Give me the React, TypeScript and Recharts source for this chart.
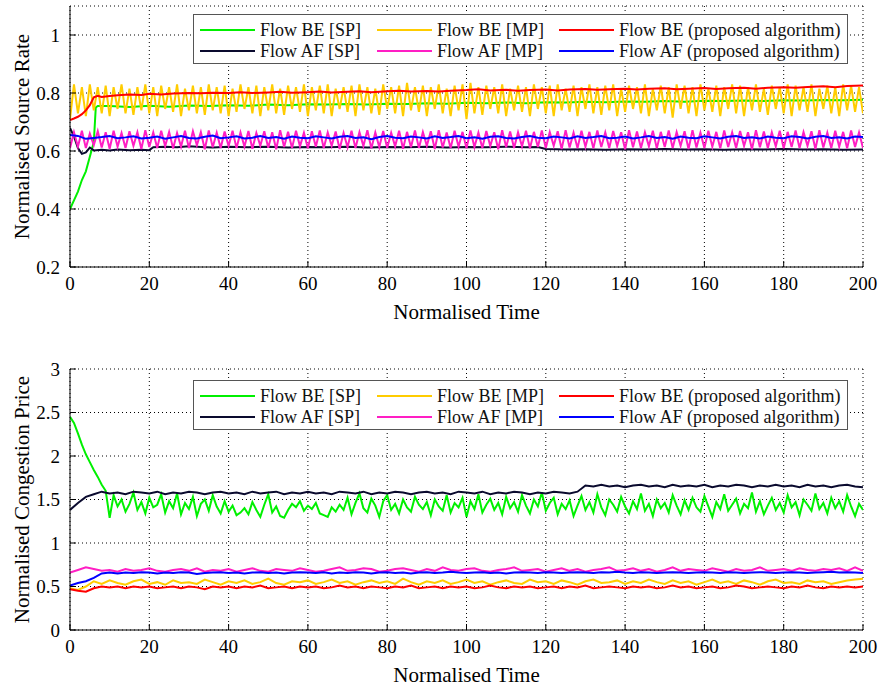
import React from "react";
import { CartesianGrid, Label, Line, LineChart, XAxis, YAxis } from "recharts";

const FONT = '"Liberation Serif", "Times New Roman", Times, serif';

const timeTicks = [0, 20, 40, 60, 80, 100, 120, 140, 160, 180, 200];
const rateTicks = [0.2, 0.4, 0.6, 0.8, 1];
const priceTicks = [0, 0.5, 1, 1.5, 2, 2.5, 3];

// ---- source rate (top panel) ----
const beSpRate: [number, number][] = [
  [0, 0.4], [1, 0.43], [2, 0.46], [3, 0.5], [4, 0.53], [5, 0.58], [6, 0.63], [6.5, 0.75], [7, 0.755],
  [10, 0.755], [15, 0.752], [20, 0.756], [25, 0.753], [30, 0.757], [35, 0.755], [40, 0.758], [45, 0.756],
  [50, 0.76], [55, 0.758], [60, 0.761], [65, 0.76], [70, 0.762], [75, 0.76], [80, 0.763], [85, 0.762],
  [90, 0.765], [95, 0.763], [100, 0.766], [105, 0.765], [110, 0.767], [115, 0.765], [120, 0.768],
  [125, 0.767], [130, 0.77], [135, 0.768], [140, 0.771], [145, 0.77], [150, 0.772], [155, 0.77],
  [160, 0.773], [165, 0.772], [170, 0.774], [175, 0.772], [180, 0.775], [185, 0.774], [190, 0.776],
  [195, 0.775], [200, 0.777],
];

const afSpRate: [number, number][] = [
  [0, 0.68], [1, 0.65], [2, 0.61], [3, 0.59], [4, 0.595], [5, 0.612], [6, 0.602], [8, 0.604], [10, 0.602],
  [12, 0.605], [15, 0.603], [18, 0.604], [20, 0.603], [21, 0.613], [24, 0.615], [27, 0.613], [30, 0.616],
  [33, 0.614], [36, 0.612], [40, 0.615], [45, 0.613], [50, 0.615], [55, 0.612], [60, 0.614], [65, 0.613],
  [70, 0.615], [75, 0.612], [80, 0.614], [85, 0.613], [90, 0.615], [95, 0.612], [100, 0.614], [105, 0.613],
  [110, 0.615], [115, 0.613], [118, 0.614], [120, 0.607], [125, 0.605], [130, 0.606], [135, 0.604],
  [140, 0.606], [145, 0.605], [150, 0.607], [155, 0.605], [160, 0.606], [165, 0.604], [170, 0.606],
  [175, 0.605], [180, 0.607], [185, 0.605], [190, 0.606], [195, 0.604], [200, 0.605],
];

// one value per time unit
const beMpRate = [
  0.71, 0.83, 0.73, 0.82, 0.72, 0.83, 0.74, 0.82, 0.73, 0.825,
  0.72, 0.82, 0.745, 0.83, 0.73, 0.815, 0.725, 0.82, 0.74, 0.83,
  0.73, 0.82, 0.72, 0.825, 0.745, 0.82, 0.735, 0.83, 0.72, 0.815,
  0.74, 0.825, 0.73, 0.82, 0.725, 0.83, 0.74, 0.82, 0.73, 0.825,
  0.72, 0.815, 0.735, 0.83, 0.745, 0.82, 0.73, 0.825, 0.72, 0.82,
  0.74, 0.83, 0.73, 0.815, 0.725, 0.825, 0.745, 0.82, 0.735, 0.83,
  0.72, 0.82, 0.74, 0.825, 0.73, 0.83, 0.72, 0.815, 0.745, 0.82,
  0.735, 0.825, 0.72, 0.83, 0.74, 0.82, 0.73, 0.815, 0.725, 0.83,
  0.745, 0.82, 0.73, 0.825, 0.72, 0.835, 0.74, 0.82, 0.735, 0.825,
  0.72, 0.82, 0.745, 0.83, 0.73, 0.815, 0.72, 0.825, 0.74, 0.83,
  0.71, 0.835, 0.73, 0.82, 0.725, 0.825, 0.745, 0.82, 0.73, 0.83,
  0.72, 0.815, 0.74, 0.825, 0.735, 0.82, 0.72, 0.83, 0.745, 0.82,
  0.73, 0.825, 0.72, 0.83, 0.74, 0.815, 0.735, 0.825, 0.72, 0.82,
  0.745, 0.83, 0.73, 0.82, 0.725, 0.825, 0.74, 0.83, 0.72, 0.815,
  0.735, 0.825, 0.745, 0.82, 0.73, 0.83, 0.72, 0.815, 0.74, 0.825,
  0.73, 0.82, 0.715, 0.83, 0.745, 0.825, 0.73, 0.82, 0.72, 0.83,
  0.74, 0.815, 0.735, 0.825, 0.72, 0.82, 0.745, 0.83, 0.73, 0.825,
  0.72, 0.82, 0.74, 0.83, 0.735, 0.815, 0.725, 0.825, 0.745, 0.82,
  0.73, 0.83, 0.72, 0.825, 0.74, 0.82, 0.735, 0.83, 0.72, 0.815,
  0.745, 0.825, 0.73, 0.82, 0.72, 0.83, 0.74, 0.825, 0.735, 0.82,
  0.73,
];

const afMpRate = [
  0.61, 0.665, 0.615, 0.67, 0.61, 0.66, 0.62, 0.668, 0.612, 0.665,
  0.608, 0.67, 0.615, 0.662, 0.61, 0.668, 0.618, 0.665, 0.607, 0.672,
  0.614, 0.664, 0.61, 0.67, 0.617, 0.666, 0.609, 0.662, 0.615, 0.67,
  0.61, 0.668, 0.62, 0.665, 0.606, 0.671, 0.613, 0.663, 0.61, 0.667,
  0.617, 0.67, 0.61, 0.664, 0.615, 0.669, 0.608, 0.662, 0.618, 0.668,
  0.611, 0.665, 0.606, 0.672, 0.614, 0.666, 0.61, 0.67, 0.616, 0.663,
  0.609, 0.668, 0.615, 0.671, 0.61, 0.664, 0.618, 0.667, 0.607, 0.662,
  0.613, 0.67, 0.61, 0.665, 0.617, 0.672, 0.609, 0.664, 0.614, 0.669,
  0.61, 0.663, 0.616, 0.67, 0.608, 0.666, 0.613, 0.671, 0.61, 0.665,
  0.618, 0.668, 0.607, 0.672, 0.612, 0.664, 0.61, 0.67, 0.615, 0.666,
  0.609, 0.671, 0.614, 0.663, 0.61, 0.669, 0.617, 0.665, 0.606, 0.672,
  0.613, 0.667, 0.61, 0.664, 0.616, 0.67, 0.609, 0.666, 0.614, 0.671,
  0.61, 0.665, 0.618, 0.668, 0.607, 0.672, 0.612, 0.663, 0.61, 0.67,
  0.615, 0.666, 0.609, 0.671, 0.614, 0.664, 0.61, 0.669, 0.617, 0.665,
  0.606, 0.672, 0.613, 0.667, 0.61, 0.664, 0.616, 0.67, 0.609, 0.666,
  0.614, 0.671, 0.61, 0.665, 0.618, 0.668, 0.607, 0.672, 0.612, 0.663,
  0.61, 0.67, 0.615, 0.666, 0.609, 0.671, 0.614, 0.664, 0.61, 0.669,
  0.617, 0.665, 0.606, 0.672, 0.613, 0.667, 0.61, 0.664, 0.616, 0.67,
  0.609, 0.666, 0.614, 0.671, 0.61, 0.665, 0.618, 0.668, 0.607, 0.672,
  0.612, 0.663, 0.61, 0.67, 0.615, 0.666, 0.609, 0.671, 0.614, 0.664,
  0.61,
];

const bePropRate: [number, number][] = [
  [0, 0.707], [1, 0.712], [2, 0.718], [3, 0.727], [4, 0.74], [5, 0.758], [6, 0.785], [7, 0.79], [8, 0.786],
  [10, 0.79], [12, 0.792], [15, 0.795], [18, 0.793], [20, 0.797], [23, 0.795], [26, 0.798], [30, 0.8],
  [33, 0.799], [36, 0.801], [40, 0.8], [43, 0.803], [46, 0.8], [50, 0.802], [53, 0.804], [56, 0.801],
  [60, 0.803], [63, 0.805], [66, 0.802], [70, 0.804], [73, 0.806], [76, 0.803], [80, 0.806], [83, 0.808],
  [86, 0.805], [90, 0.807], [93, 0.805], [96, 0.808], [100, 0.81], [103, 0.813], [106, 0.809], [110, 0.811],
  [113, 0.808], [116, 0.81], [120, 0.812], [123, 0.809], [126, 0.812], [130, 0.814], [133, 0.811],
  [136, 0.813], [140, 0.815], [143, 0.812], [146, 0.815], [150, 0.816], [153, 0.813], [156, 0.815],
  [160, 0.817], [163, 0.814], [166, 0.816], [170, 0.818], [173, 0.815], [176, 0.818], [180, 0.82],
  [183, 0.818], [186, 0.821], [190, 0.823], [193, 0.82], [196, 0.824], [200, 0.826],
];

// one value every 2 time units
const afPropRate = [
  0.655, 0.652, 0.642, 0.645, 0.648, 0.652, 0.644, 0.647, 0.651, 0.643,
  0.646, 0.65, 0.642, 0.647, 0.652, 0.645, 0.643, 0.649, 0.653, 0.644,
  0.647, 0.651, 0.643, 0.646, 0.652, 0.645, 0.648, 0.642, 0.65, 0.646,
  0.644, 0.651, 0.647, 0.643, 0.649, 0.652, 0.645, 0.647, 0.641, 0.648,
  0.652, 0.646, 0.644, 0.65, 0.647, 0.643, 0.651, 0.645, 0.648, 0.652,
  0.644, 0.647, 0.642, 0.649, 0.651, 0.645, 0.643, 0.648, 0.652, 0.646,
  0.644, 0.65, 0.647, 0.643, 0.651, 0.645, 0.648, 0.652, 0.644, 0.646,
  0.65, 0.643, 0.647, 0.652, 0.645, 0.648, 0.642, 0.65, 0.646, 0.644,
  0.651, 0.647, 0.643, 0.649, 0.652, 0.645, 0.647, 0.643, 0.65, 0.646,
  0.644, 0.651, 0.648, 0.643, 0.649, 0.652, 0.645, 0.647, 0.643, 0.65,
  0.648,
];

// ---- congestion price (bottom panel) ----
// one value per time unit
const beSpPrice = [
  2.45, 2.38, 2.26, 2.13, 2.02, 1.93, 1.84, 1.76, 1.67, 1.6,
  1.29, 1.55, 1.42, 1.5, 1.36, 1.45, 1.58, 1.38, 1.47, 1.34,
  1.52, 1.41, 1.44, 1.56, 1.35, 1.48, 1.4, 1.57, 1.33, 1.46,
  1.39, 1.53, 1.31, 1.45, 1.5, 1.37, 1.55, 1.42, 1.34, 1.48,
  1.36, 1.43, 1.32, 1.35, 1.4, 1.33, 1.47, 1.38, 1.3, 1.44,
  1.56, 1.35, 1.42, 1.31, 1.29, 1.38, 1.45, 1.41, 1.48, 1.37,
  1.43, 1.39, 1.46, 1.34, 1.32, 1.3, 1.41, 1.36, 1.44, 1.38,
  1.52, 1.33, 1.46, 1.57, 1.4, 1.35, 1.51, 1.43, 1.3, 1.48,
  1.55, 1.38, 1.45, 1.34, 1.5, 1.41, 1.36, 1.53, 1.44, 1.39,
  1.47, 1.32, 1.5, 1.42, 1.37, 1.55, 1.35, 1.46, 1.41, 1.52,
  1.3, 1.48, 1.39, 1.56, 1.35, 1.44, 1.51, 1.38, 1.46, 1.33,
  1.53, 1.4, 1.47, 1.36, 1.55, 1.43, 1.34, 1.5, 1.42, 1.58,
  1.37, 1.46, 1.52, 1.33, 1.45, 1.39, 1.49, 1.31, 1.43, 1.54,
  1.38, 1.47, 1.35, 1.56, 1.41, 1.32, 1.5, 1.44, 1.36, 1.53,
  1.42, 1.34, 1.48, 1.39, 1.57, 1.37, 1.45, 1.31, 1.5, 1.4,
  1.46, 1.35, 1.55, 1.43, 1.33, 1.49, 1.38, 1.52, 1.41, 1.36,
  1.54, 1.42, 1.3, 1.47, 1.39, 1.56, 1.37, 1.44, 1.51, 1.34,
  1.45, 1.4, 1.58, 1.36, 1.48, 1.33, 1.43, 1.52, 1.38, 1.46,
  1.35, 1.55, 1.41, 1.47, 1.32, 1.5, 1.44, 1.37, 1.57, 1.39,
  1.46, 1.34, 1.52, 1.4, 1.48, 1.36, 1.55, 1.42, 1.31, 1.45,
  1.38,
];

// one value every 2 time units
const afSpPrice = [
  1.38, 1.46, 1.53, 1.56, 1.59, 1.57, 1.58, 1.56, 1.59, 1.58,
  1.57, 1.59, 1.56, 1.58, 1.57, 1.59, 1.58, 1.56, 1.58, 1.59,
  1.57, 1.58, 1.56, 1.59, 1.57, 1.58, 1.59, 1.56, 1.58, 1.57,
  1.59, 1.57, 1.58, 1.56, 1.59, 1.58, 1.57, 1.59, 1.56, 1.58,
  1.57, 1.59, 1.58, 1.56, 1.58, 1.59, 1.57, 1.58, 1.56, 1.59,
  1.58, 1.57, 1.59, 1.56, 1.58, 1.57, 1.59, 1.58, 1.56, 1.58,
  1.57, 1.59, 1.58, 1.57, 1.59, 1.66, 1.65, 1.67, 1.65, 1.66,
  1.64, 1.66, 1.67, 1.65, 1.66, 1.64, 1.67, 1.65, 1.66, 1.65,
  1.67, 1.64, 1.66, 1.65, 1.67, 1.66, 1.64, 1.66, 1.65, 1.67,
  1.65, 1.66, 1.64, 1.67, 1.65, 1.66, 1.64, 1.66, 1.67, 1.65,
  1.64,
];

const beMpPrice = [
  0.48, 0.46, 0.5, 0.56, 0.53, 0.57, 0.54, 0.52, 0.56, 0.58,
  0.53, 0.55, 0.52, 0.57, 0.54, 0.55, 0.53, 0.58, 0.55, 0.52,
  0.56, 0.54, 0.57, 0.53, 0.55, 0.59, 0.54, 0.52, 0.56, 0.55,
  0.57, 0.53, 0.55, 0.58, 0.54, 0.56, 0.52, 0.55, 0.57, 0.54,
  0.56, 0.53, 0.59, 0.55, 0.52, 0.56, 0.54, 0.57, 0.53, 0.55,
  0.58, 0.54, 0.56, 0.52, 0.55, 0.57, 0.54, 0.53, 0.58, 0.55,
  0.56, 0.53, 0.57, 0.55, 0.52, 0.56, 0.58, 0.54, 0.55, 0.57,
  0.53, 0.56, 0.54, 0.58, 0.55, 0.53, 0.57, 0.54, 0.56, 0.52,
  0.55, 0.58, 0.54, 0.56, 0.53, 0.57, 0.55, 0.52, 0.56, 0.58,
  0.54, 0.55, 0.53, 0.57, 0.55, 0.56, 0.53, 0.55, 0.57, 0.58,
  0.59,
];

const afMpPrice = [
  0.66, 0.69, 0.72, 0.7, 0.68, 0.69, 0.67, 0.7, 0.68, 0.69,
  0.71, 0.68, 0.67, 0.69, 0.7, 0.68, 0.71, 0.67, 0.69, 0.68,
  0.7, 0.67, 0.69, 0.71, 0.68, 0.67, 0.7, 0.69, 0.68, 0.71,
  0.69, 0.67, 0.68, 0.7, 0.72, 0.68, 0.69, 0.71, 0.7, 0.67,
  0.68, 0.7, 0.71, 0.69, 0.67, 0.7, 0.68, 0.72, 0.69, 0.68,
  0.7, 0.71, 0.68, 0.67, 0.69, 0.7, 0.72, 0.68, 0.69, 0.7,
  0.67, 0.69, 0.71, 0.68, 0.7, 0.67, 0.69, 0.7, 0.72, 0.68,
  0.69, 0.71, 0.68, 0.7, 0.67, 0.69, 0.72, 0.68, 0.7, 0.69,
  0.68, 0.71, 0.69, 0.67, 0.7, 0.68, 0.69, 0.72, 0.68, 0.69,
  0.7, 0.68, 0.71, 0.69, 0.68, 0.7, 0.69, 0.71, 0.68, 0.72,
  0.68,
];

const bePropPrice = [
  0.47, 0.45, 0.44, 0.48, 0.5, 0.49, 0.5, 0.48, 0.5, 0.49,
  0.5, 0.48, 0.49, 0.5, 0.48, 0.5, 0.49, 0.47, 0.5, 0.49,
  0.5, 0.48, 0.5, 0.49, 0.51, 0.48, 0.49, 0.5, 0.48, 0.5,
  0.49, 0.5, 0.48, 0.49, 0.51, 0.49, 0.5, 0.48, 0.5, 0.49,
  0.48, 0.5, 0.49, 0.51, 0.48, 0.49, 0.5, 0.48, 0.5, 0.49,
  0.5, 0.48, 0.49, 0.51, 0.49, 0.48, 0.5, 0.49, 0.5, 0.48,
  0.49, 0.5, 0.48, 0.5, 0.49, 0.51, 0.48, 0.49, 0.5, 0.49,
  0.48, 0.5, 0.49, 0.5, 0.48, 0.49, 0.51, 0.49, 0.5, 0.48,
  0.49, 0.5, 0.48, 0.49, 0.51, 0.5, 0.48, 0.49, 0.5, 0.49,
  0.48, 0.5, 0.49, 0.51, 0.49, 0.48, 0.5, 0.49, 0.5, 0.49,
  0.5,
];

const afPropPrice = [
  0.51, 0.54, 0.56, 0.6, 0.65, 0.66, 0.65, 0.66, 0.655, 0.665,
  0.66, 0.65, 0.66, 0.655, 0.665, 0.66, 0.645, 0.655, 0.66, 0.665,
  0.655, 0.66, 0.65, 0.66, 0.665, 0.655, 0.66, 0.65, 0.66, 0.665,
  0.66, 0.655, 0.665, 0.65, 0.66, 0.655, 0.665, 0.66, 0.65, 0.66,
  0.665, 0.655, 0.66, 0.65, 0.66, 0.665, 0.655, 0.66, 0.67, 0.66,
  0.655, 0.66, 0.665, 0.655, 0.66, 0.65, 0.66, 0.665, 0.66, 0.655,
  0.665, 0.66, 0.655, 0.66, 0.665, 0.66, 0.655, 0.665, 0.66, 0.67,
  0.66, 0.655, 0.665, 0.66, 0.655, 0.66, 0.665, 0.66, 0.655, 0.66,
  0.665, 0.66, 0.655, 0.665, 0.66, 0.655, 0.66, 0.665, 0.66, 0.655,
  0.66, 0.665, 0.66, 0.655, 0.66, 0.665, 0.67, 0.66, 0.665, 0.66,
  0.655,
];

type Pt = { t: number; v: number };
const fromSteps = (vals: number[], step: number): Pt[] => vals.map((v, i) => ({ t: i * step, v }));
const fromPairs = (pairs: [number, number][]): Pt[] => pairs.map(([t, v]) => ({ t, v }));

const COLORS = {
  beSp: "#00f000",
  afSp: "#0a0a2e",
  beMp: "#ffcc00",
  afMp: "#ff1ec4",
  beProp: "#ff0000",
  afProp: "#0000ff",
};

type SeriesDef = { key: string; color: string; data: Pt[] };

const rateSeries: SeriesDef[] = [
  { key: "beSp", color: COLORS.beSp, data: fromPairs(beSpRate) },
  { key: "afSp", color: COLORS.afSp, data: fromPairs(afSpRate) },
  { key: "beMp", color: COLORS.beMp, data: fromSteps(beMpRate, 1) },
  { key: "afMp", color: COLORS.afMp, data: fromSteps(afMpRate, 1) },
  { key: "beProp", color: COLORS.beProp, data: fromPairs(bePropRate) },
  { key: "afProp", color: COLORS.afProp, data: fromSteps(afPropRate, 2) },
];

const priceSeries: SeriesDef[] = [
  { key: "beSp", color: COLORS.beSp, data: fromSteps(beSpPrice, 1) },
  { key: "afSp", color: COLORS.afSp, data: fromSteps(afSpPrice, 2) },
  { key: "beMp", color: COLORS.beMp, data: fromSteps(beMpPrice, 2) },
  { key: "afMp", color: COLORS.afMp, data: fromSteps(afMpPrice, 2) },
  { key: "beProp", color: COLORS.beProp, data: fromSteps(bePropPrice, 2) },
  { key: "afProp", color: COLORS.afProp, data: fromSteps(afPropPrice, 2) },
];

// legend rows, laid out as in the figure (BE on top, AF below)
const legendItems = [
  [
    { label: "Flow BE [SP]", color: COLORS.beSp },
    { label: "Flow BE [MP]", color: COLORS.beMp },
    { label: "Flow BE (proposed algorithm)", color: COLORS.beProp },
  ],
  [
    { label: "Flow AF [SP]", color: COLORS.afSp },
    { label: "Flow AF [MP]", color: COLORS.afMp },
    { label: "Flow AF (proposed algorithm)", color: COLORS.afProp },
  ],
];

const PLOT_H = 261;
const XAXIS_H = 55;
const TICK_LEN = 6;
const LABEL_GAP = 10;
const legendCols = [7, 184, 366];
const legendRows = [15, 36];

// tick renderers: each draws the inward tick mark itself, plus the label where wanted
const BottomTick = (p: any) => (
  <g>
    <line x1={p.x} x2={p.x} y1={p.y - LABEL_GAP} y2={p.y - LABEL_GAP - TICK_LEN} stroke="#000" />
    <text x={p.x} y={p.y} dy="0.71em" textAnchor="middle" fill="#000" fontSize={19} fontFamily={FONT}>
      {p.payload.value}
    </text>
  </g>
);
const LeftTick = (p: any) => (
  <g>
    <line x1={p.x + LABEL_GAP} x2={p.x + LABEL_GAP + TICK_LEN} y1={p.y} y2={p.y} stroke="#000" />
    <text x={p.x} y={p.y} dy="0.355em" textAnchor="end" fill="#000" fontSize={19} fontFamily={FONT}>
      {p.payload.value}
    </text>
  </g>
);
const TopTick = (p: any) => <line x1={p.x} x2={p.x} y1={p.y} y2={p.y + TICK_LEN} stroke="#000" />;
const RightTick = (p: any) => <line x1={p.x} x2={p.x - TICK_LEN} y1={p.y} y2={p.y} stroke="#000" />;

function LegendBox({ top }: { top: number }) {
  return (
    <div
      style={{
        position: "absolute",
        left: 193,
        top,
        width: 655,
        height: 50,
        boxSizing: "border-box",
        border: "1px solid #555",
        background: "#fff",
        fontFamily: FONT,
        fontSize: 18,
        color: "#111",
      }}
    >
      {legendItems.map((row, r) =>
        row.map((item, c) => (
          <div
            key={item.label}
            style={{
              position: "absolute",
              left: legendCols[c] - 1,
              top: legendRows[r] - 11,
              height: 22,
              display: "flex",
              alignItems: "center",
              whiteSpace: "nowrap",
            }}
          >
            <span style={{ display: "inline-block", width: 55, height: 2, background: item.color, marginRight: 5 }} />
            <span>{item.label}</span>
          </div>
        ))
      )}
    </div>
  );
}

function Panel(props: {
  series: SeriesDef[];
  yDomain: [number, number];
  yTicks: number[];
  yTitle: string;
  top: number;
  height: number;
  plotTop: number;
}) {
  const { series, yDomain, yTicks, yTitle, top, height, plotTop } = props;
  const cy = plotTop + PLOT_H / 2;
  return (
    <div style={{ position: "absolute", left: 0, top, width: 880, height }}>
      <LineChart
        width={880}
        height={height}
        margin={{ top: plotTop, right: 17, left: 30, bottom: height - plotTop - PLOT_H - XAXIS_H }}
      >
        <CartesianGrid xAxisId="b" yAxisId="l" stroke="#000" strokeDasharray="1 3" />
        <XAxis
          xAxisId="b"
          type="number"
          dataKey="t"
          domain={[0, 200]}
          ticks={timeTicks}
          interval={0}
          allowDataOverflow
          height={XAXIS_H}
          tickLine={false}
          tickSize={0}
          tickMargin={LABEL_GAP}
          tick={BottomTick}
          axisLine={{ stroke: "#000" }}
        >
          <Label value="Normalised Time" position="insideBottom" offset={3} fill="#000" fontSize={21} fontFamily={FONT} />
        </XAxis>
        <XAxis
          xAxisId="t"
          type="number"
          dataKey="t"
          domain={[0, 200]}
          ticks={timeTicks}
          interval={0}
          allowDataOverflow
          orientation="top"
          height={0}
          tickLine={false}
          tickSize={0}
          tickMargin={0}
          tick={TopTick}
          axisLine={{ stroke: "#000" }}
        />
        <YAxis
          yAxisId="l"
          type="number"
          domain={yDomain}
          ticks={yTicks}
          interval={0}
          allowDataOverflow
          width={40}
          tickLine={false}
          tickSize={0}
          tickMargin={LABEL_GAP}
          tick={LeftTick}
          axisLine={{ stroke: "#000" }}
        >
          <Label
            content={() => (
              <text
                x={22}
                y={cy}
                transform={`rotate(-90 22 ${cy})`}
                textAnchor="middle"
                dominantBaseline="central"
                fill="#000"
                fontSize={21}
                fontFamily={FONT}
              >
                {yTitle}
              </text>
            )}
          />
        </YAxis>
        <YAxis
          yAxisId="r"
          type="number"
          domain={yDomain}
          ticks={yTicks}
          interval={0}
          allowDataOverflow
          orientation="right"
          width={0}
          tickLine={false}
          tickSize={0}
          tickMargin={0}
          tick={RightTick}
          axisLine={{ stroke: "#000" }}
        />
        {series.map((s) => (
          <Line
            key={s.key}
            xAxisId="b"
            yAxisId="l"
            data={s.data}
            dataKey="v"
            type="linear"
            stroke={s.color}
            strokeWidth={2}
            dot={false}
            activeDot={false}
            isAnimationActive={false}
          />
        ))}
      </LineChart>
    </div>
  );
}

export default function App() {
  return (
    <div style={{ position: "absolute", left: 0, top: 0, width: 880, height: 691, background: "#fff" }}>
      <Panel series={rateSeries} yDomain={[0.2, 1.1]} yTicks={rateTicks} yTitle="Normalised Source Rate" top={0} height={345} plotTop={6} />
      <Panel series={priceSeries} yDomain={[0, 3]} yTicks={priceTicks} yTitle="Normalised Congestion Price" top={345} height={346} plotTop={24} />
      <LegendBox top={14} />
      <LegendBox top={380} />
    </div>
  );
}
